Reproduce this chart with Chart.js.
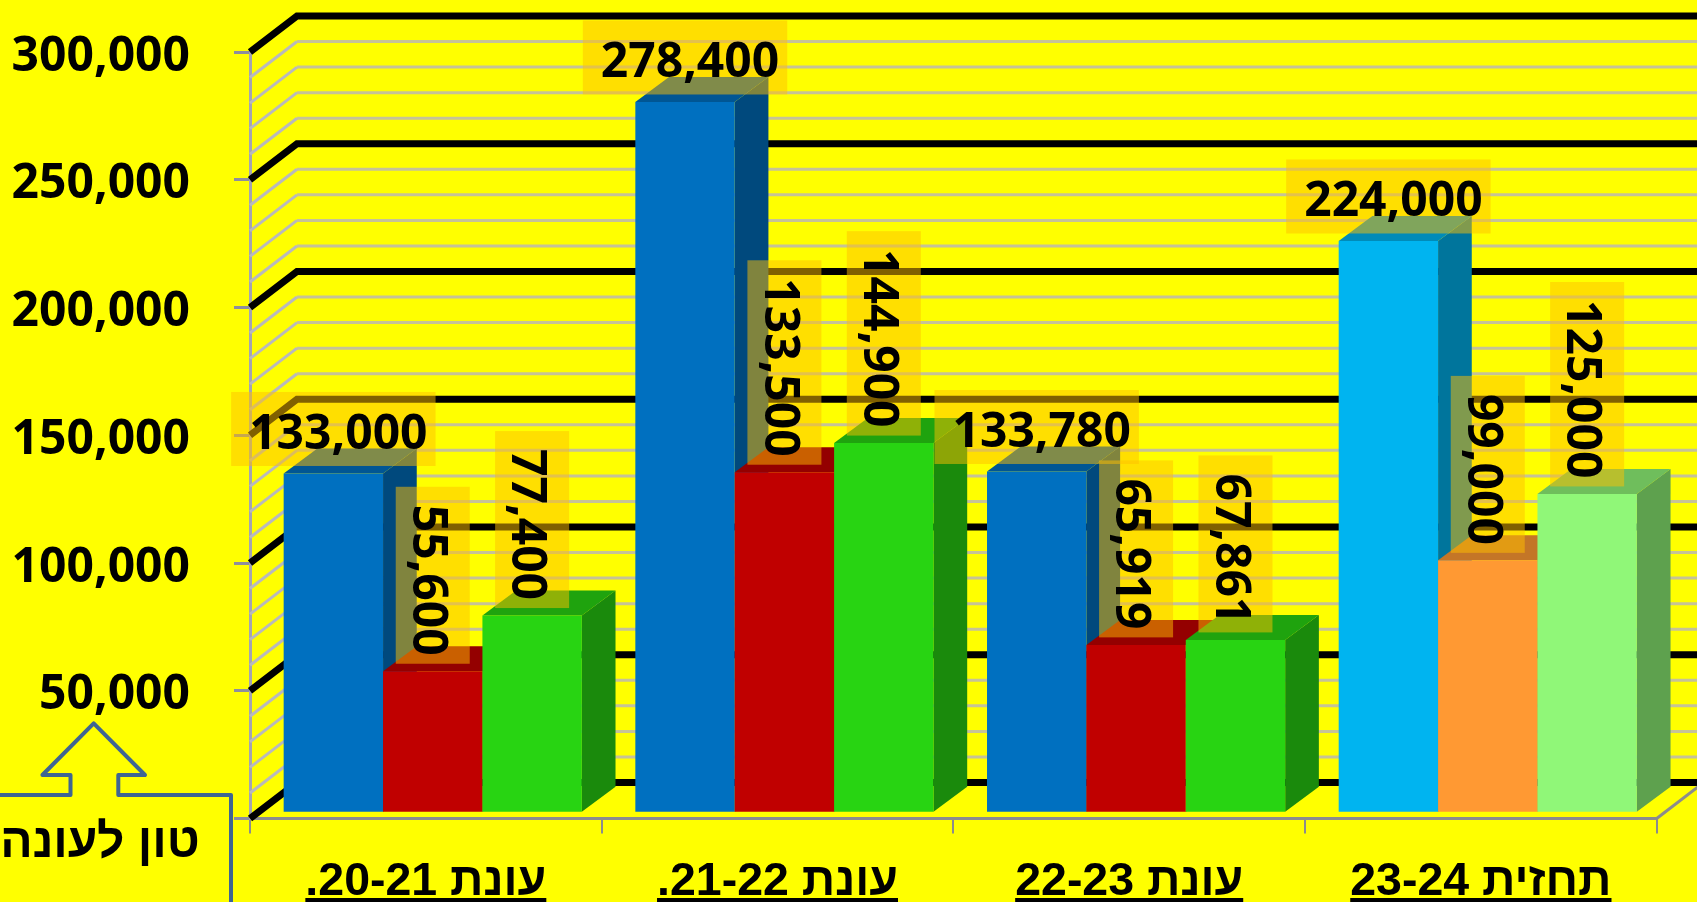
<!DOCTYPE html>
<html>
<head>
<meta charset="utf-8">
<script src="https://cdn.jsdelivr.net/npm/chart.js@4/dist/chart.umd.min.js"></script>
<style>
  html, body { margin: 0; padding: 0; background: #FFFF00; overflow: hidden; }
  canvas { display: block; }
</style>
</head>
<body>
<canvas id="chart" width="1697" height="902" dir="rtl"></canvas>
<script>
const seasons = ['עונת 20-21.', 'עונת 21-22.', 'עונת 22-23', 'תחזית 23-24'];
const firstSeries = [133000, 278400, 133780, 224000];
const secondSeries = [55600, 133500, 65919, 99000];
const thirdSeries = [77400, 144900, 67861, 125000];
const firstColors = ['#0070C0', '#0070C0', '#0070C0', '#00B4F0'];
const secondColors = ['#C00000', '#C00000', '#C00000', '#FF9933'];
const thirdColors = ['#28D412', '#28D412', '#28D412', '#90F778'];
const calloutText = 'טון לעונה';

const NUM_FONT = 'bold 48px "Noto Sans"';
const depthX = 33.7, depthY = 25;      // bar depth
const wallX = 47, wallY = 36;          // floor depth, axis to back wall
const shiftX = 6.9, shiftY = -5.2;     // bars sit a little inside the floor

function shade(hex, f) {
  const n = parseInt(hex.slice(1), 16);
  const r = Math.round((n >> 16 & 255) * f), g = Math.round((n >> 8 & 255) * f), b = Math.round((n & 255) * f);
  return 'rgb(' + r + ',' + g + ',' + b + ')';
}

function poly(ctx, pts, color) {
  ctx.fillStyle = color;
  ctx.beginPath();
  pts.forEach((p, i) => i ? ctx.lineTo(p[0], p[1]) : ctx.moveTo(p[0], p[1]));
  ctx.closePath();
  ctx.fill();
}

const depthPlugin = {
  id: 'depth',
  // back wall lines and 3D bars, in left to right order
  beforeDatasetsDraw(chart) {
    const ctx = chart.ctx, y = chart.scales.y, x0 = chart.chartArea.left;
    ctx.save();
    ctx.lineJoin = 'miter';
    y.ticks.forEach(t => {
      const py = y.getPixelForValue(t.value);
      if (t.value % 50000 === 0) return;
      ctx.strokeStyle = '#B9B9BC';
      ctx.lineWidth = 3;
      ctx.beginPath(); ctx.moveTo(x0, py); ctx.lineTo(x0 + wallX, py - wallY); ctx.stroke();
      ctx.strokeStyle = '#C6C298';
      ctx.beginPath(); ctx.moveTo(x0 + wallX, py - wallY); ctx.lineTo(chart.width, py - wallY); ctx.stroke();
    });
    y.ticks.forEach(t => {
      const py = y.getPixelForValue(t.value);
      if (t.value % 50000 !== 0) return;
      ctx.strokeStyle = '#000';
      ctx.lineWidth = 7;
      ctx.beginPath(); ctx.moveTo(x0, py); ctx.lineTo(x0 + wallX, py - wallY); ctx.lineTo(chart.width, py - wallY); ctx.stroke();
    });
    // right end of the floor
    const right = chart.chartArea.right, bottom = chart.chartArea.bottom;
    ctx.strokeStyle = '#8C8C8C';
    ctx.lineWidth = 3;
    ctx.beginPath(); ctx.moveTo(right, bottom); ctx.lineTo(right + wallX, bottom - wallY); ctx.stroke();

    ctx.translate(shiftX, shiftY);
    chart.data.datasets.forEach((ds, i) => {
      chart.getDatasetMeta(i).data.forEach((bar, j) => {
        const c = ds.backgroundColor[j];
        const l = bar.x - bar.width / 2, r = bar.x + bar.width / 2;
        poly(ctx, [[r, bar.y], [r + depthX, bar.y - depthY], [r + depthX, bar.base - depthY], [r, bar.base]], shade(c, 0.65));
        poly(ctx, [[l, bar.y], [l + depthX, bar.y - depthY], [r + depthX, bar.y - depthY], [r, bar.y]], shade(c, 0.77));
        bar.draw(ctx);
      });
    });
    ctx.restore();
    return false;
  },
  afterDraw(chart) {
    const ctx = chart.ctx;
    ctx.save();
    // value labels, translucent box above each bar
    ctx.font = NUM_FONT;
    ctx.textBaseline = 'middle';
    ctx.textAlign = 'center';
    chart.data.datasets.forEach((ds, i) => {
      const upright = i === 0;
      chart.getDatasetMeta(i).data.forEach((bar, j) => {
        const label = ds.data[j].toLocaleString('en-US');
        const long = ctx.measureText(label).width + 26;
        const cx = bar.x + shiftX, bottom = bar.y + shiftY - 7.5;
        ctx.fillStyle = 'rgba(255,192,0,0.5)';
        if (upright) ctx.fillRect(cx - long / 2, bottom - 74, long, 74);
        else ctx.fillRect(cx - 37, bottom - long, 74, long);
        ctx.fillStyle = '#000';
        ctx.save();
        if (upright) {
          ctx.translate(cx + 5, bottom - 37 + 6);
        } else {
          ctx.translate(cx - 6, bottom - long / 2 + 5);
          ctx.rotate(Math.PI / 2);
        }
        ctx.fillText(label, 0, 0);
        ctx.restore();
      });
    });
    // underline of the category labels
    const xs = chart.scales.x;
    ctx.font = xs.options.ticks.font.weight + ' ' + xs.options.ticks.font.size + 'px ' + xs.options.ticks.font.family;
    ctx.fillStyle = '#000';
    seasons.forEach((s, i) => {
      const w = ctx.measureText(s).width;
      ctx.fillRect(xs.getPixelForTick(i) - w / 2, 898, w, 4);
    });
    // callout with the unit
    ctx.strokeStyle = '#3F6592';
    ctx.lineWidth = 4;
    ctx.lineJoin = 'round';
    ctx.beginPath();
    [[0, 795], [70.5, 795], [70.5, 775], [42.4, 775], [93.7, 723.3], [145, 775], [118.3, 775], [118.3, 795], [231, 795], [231, 902]]
      .forEach((p, i) => i ? ctx.lineTo(p[0], p[1]) : ctx.moveTo(p[0], p[1]));
    ctx.stroke();
    ctx.fillStyle = '#000';
    ctx.font = 'bold 48px "Liberation Sans"';
    ctx.textAlign = 'center';
    ctx.textBaseline = 'alphabetic';
    ctx.fillText(calloutText, 100, 857);
    ctx.restore();
  }
};

new Chart(document.getElementById('chart'), {
  type: 'bar',
  data: {
    labels: seasons,
    datasets: [
      { data: firstSeries, backgroundColor: firstColors, borderWidth: 0 },
      { data: secondSeries, backgroundColor: secondColors, borderWidth: 0 },
      { data: thirdSeries, backgroundColor: thirdColors, borderWidth: 0 }
    ]
  },
  options: {
    responsive: false,
    animation: false,
    layout: { padding: { top: 52, right: 40.3, left: 0, bottom: 0 } },
    datasets: { bar: { categoryPercentage: 0.8478, barPercentage: 1 } },
    plugins: { legend: { display: false }, tooltip: { enabled: false }, title: { display: false } },
    scales: {
      x: {
        afterFit(scale) { scale.height = 83.5; scale.paddingLeft = 0; scale.paddingRight = 0; },
        border: { color: '#8C8C8C', width: 3 },
        grid: { offset: true, drawOnChartArea: false, color: '#8C8C8C', tickColor: '#8C8C8C', tickLength: 15, lineWidth: 2 },
        ticks: {
          color: '#000',
          padding: 21,
          maxRotation: 0,
          autoSkip: false,
          font: { family: '"Liberation Sans"', size: 46.5, weight: 'bold' }
        }
      },
      y: {
        min: 0,
        max: 300000,
        afterFit(scale) { scale.width = 250; scale.paddingTop = 0; scale.paddingBottom = 0; },
        border: { color: '#A4A4B0', width: 3 },
        grid: {
          drawOnChartArea: false,
          lineWidth: 3,
          tickLength: 16,
          tickColor: c => (c.tick.value % 50000 === 0 ? '#8E8E9E' : 'rgba(0,0,0,0)')
        },
        ticks: {
          stepSize: 10000,
          autoSkip: false,
          color: '#000',
          padding: 44,
          labelOffset: 5,
          font: { family: '"Noto Sans"', size: 48, weight: 'bold' },
          callback: v => (v > 0 && v % 50000 === 0 ? v.toLocaleString('en-US') : '')
        }
      }
    }
  },
  plugins: [depthPlugin]
});
</script>
</body>
</html>
